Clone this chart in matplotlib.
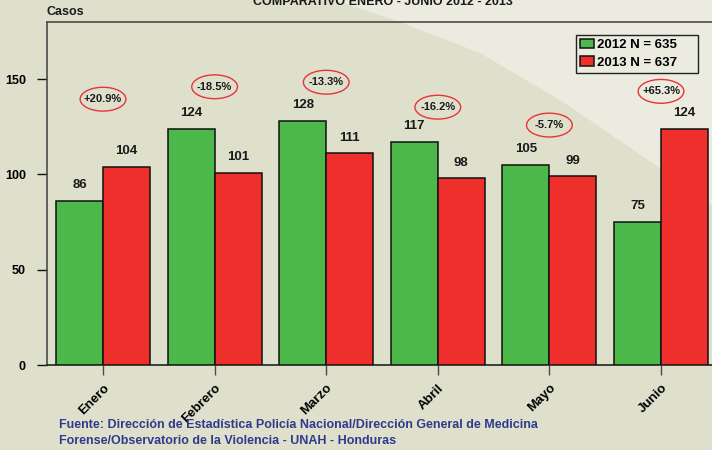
"""
plot.py - Comparativo enero-junio 2012 vs 2013 (casos por mes).
"""
import matplotlib

matplotlib.use("Agg")
import matplotlib.pyplot as plt
import numpy as np
from matplotlib.patches import Ellipse, Polygon

MONTHS = ["Enero", "Febrero", "Marzo", "Abril", "Mayo", "Junio"]
CASES_2012 = [86, 124, 128, 117, 105, 75]
CASES_2013 = [104, 101, 111, 98, 99, 124]
CHANGE_LABELS = ["+20.9%", "-18.5%", "-13.3%", "-16.2%", "-5.7%", "+65.3%"]
CHANGE_Y = [139.5, 146.0, 148.4, 135.3, 125.9, 143.6]
LEGEND_LABELS = ["2012 N = 635", "2013 N = 637"]
TITLE = "COMPARATIVO ENERO - JUNIO 2012 - 2013"
SOURCE_LINES = [
    "Fuente: Dirección de Estadística Policía Nacional/Dirección General de Medicina",
    "Forense/Observatorio de la Violencia - UNAH - Honduras",
]

GREEN = "#4cb84a"
RED = "#ee2f2c"
BG_DARK = "#dfe0cc"
BG_LIGHT = "#ebecdf"
SPINE = "#4a4a4a"
SOURCE_BLUE = "#2e3b8c"

plt.rcParams["font.family"] = ["Liberation Sans", "DejaVu Sans"]
plt.rcParams["font.weight"] = "bold"

W, H = 712, 450
fig = plt.figure(figsize=(W / 100, H / 100), dpi=100, facecolor=BG_DARK)

# lighter diagonal band in the upper right of the slide background
light = Polygon(
    [(335 / W, 1), (400 / W, 1 - 22 / H), (480 / W, 1 - 53 / H), (560 / W, 1 - 100 / H),
     (663 / W, 1 - 170 / H), (712 / W, 1 - 205 / H), (1, 1)],
    closed=True, transform=fig.transFigure, facecolor=BG_LIGHT, edgecolor="none", zorder=0,
)
fig.add_artist(light)

ax = fig.add_axes([47 / W, 1 - 365 / H, (W - 47) / W, (365 - 22) / H])
ax.set_facecolor("none")

x = np.arange(len(MONTHS))
bw = 0.421
ax.bar(x - bw / 2, CASES_2012, width=bw, color=GREEN, edgecolor="#111111", linewidth=1.1,
       label=LEGEND_LABELS[0], zorder=3)
ax.bar(x + bw / 2, CASES_2013, width=bw, color=RED, edgecolor="#111111", linewidth=1.1,
       label=LEGEND_LABELS[1], zorder=3)

for xi, v in zip(x, CASES_2012):
    ax.annotate(str(v), (xi - bw / 2, v), xytext=(0, 7), textcoords="offset points",
                ha="center", va="bottom", fontsize=9.5, fontweight="bold", color="#1a1a1a")
for xi, v in zip(x, CASES_2013):
    ax.annotate(str(v), (xi + bw / 2, v), xytext=(0, 7), textcoords="offset points",
                ha="center", va="bottom", fontsize=9.5, fontweight="bold", color="#1a1a1a")

for xi, yv, lab in zip(x, CHANGE_Y, CHANGE_LABELS):
    ax.add_patch(Ellipse((xi, yv), width=0.41, height=12.5, facecolor="none",
                         edgecolor="#e8333a", linewidth=1.0, zorder=4))
    ax.text(xi, yv, lab, ha="center", va="center", fontsize=8, fontweight="bold",
            color="#1a1a1a", zorder=5)

ax.set_xlim(-0.502, 5.457)
ax.set_ylim(0, 180)
ax.set_yticks([0, 50, 100, 150])
ax.set_yticklabels(["0", "50", "100", "150"], fontsize=9, fontweight="bold")
ax.set_xticks(x)
ax.set_xticklabels(MONTHS, rotation=45, ha="right", rotation_mode="anchor",
                   fontsize=9.5, fontweight="bold")
ax.tick_params(axis="y", direction="out", length=7.2, width=1.0, color="#111111", pad=8)
ax.tick_params(axis="x", direction="out", length=7.2, width=1.0, color=SPINE, pad=5)

for side in ["left", "top", "bottom"]:
    ax.spines[side].set_color(SPINE)
    ax.spines[side].set_linewidth(1.2)
ax.spines["right"].set_visible(False)
ax.spines["bottom"].set_color("#222222")

leg = ax.legend(loc="upper left", bbox_to_anchor=(576 / W, 1 - 71 / H, 122 / W, 36 / H),
                bbox_transform=fig.transFigure, mode="expand", frameon=True, fancybox=False,
                facecolor=BG_LIGHT, edgecolor="#222222", framealpha=1,
                prop={"size": 9.5, "weight": "bold"}, handlelength=1.1, handleheight=0.7,
                handletextpad=0.2, borderpad=0.3, labelspacing=0.4, borderaxespad=0)
leg.get_frame().set_linewidth(1.0)

fig.text(47 / W, 1 - 12 / H, "Casos", ha="left", va="center", fontsize=9,
         fontweight="bold", color="#1a1a1a")
fig.text(383 / W, 1 - 5 / H, TITLE, ha="center", va="baseline", fontsize=9,
         fontweight="bold", color="#1a1a1a")
for line, ypix in zip(SOURCE_LINES, [425, 441]):
    fig.text(59 / W, 1 - ypix / H, line, ha="left", va="center", fontsize=9,
             fontweight="bold", color=SOURCE_BLUE)

fig.savefig("out.png", dpi=100, facecolor=BG_DARK)
